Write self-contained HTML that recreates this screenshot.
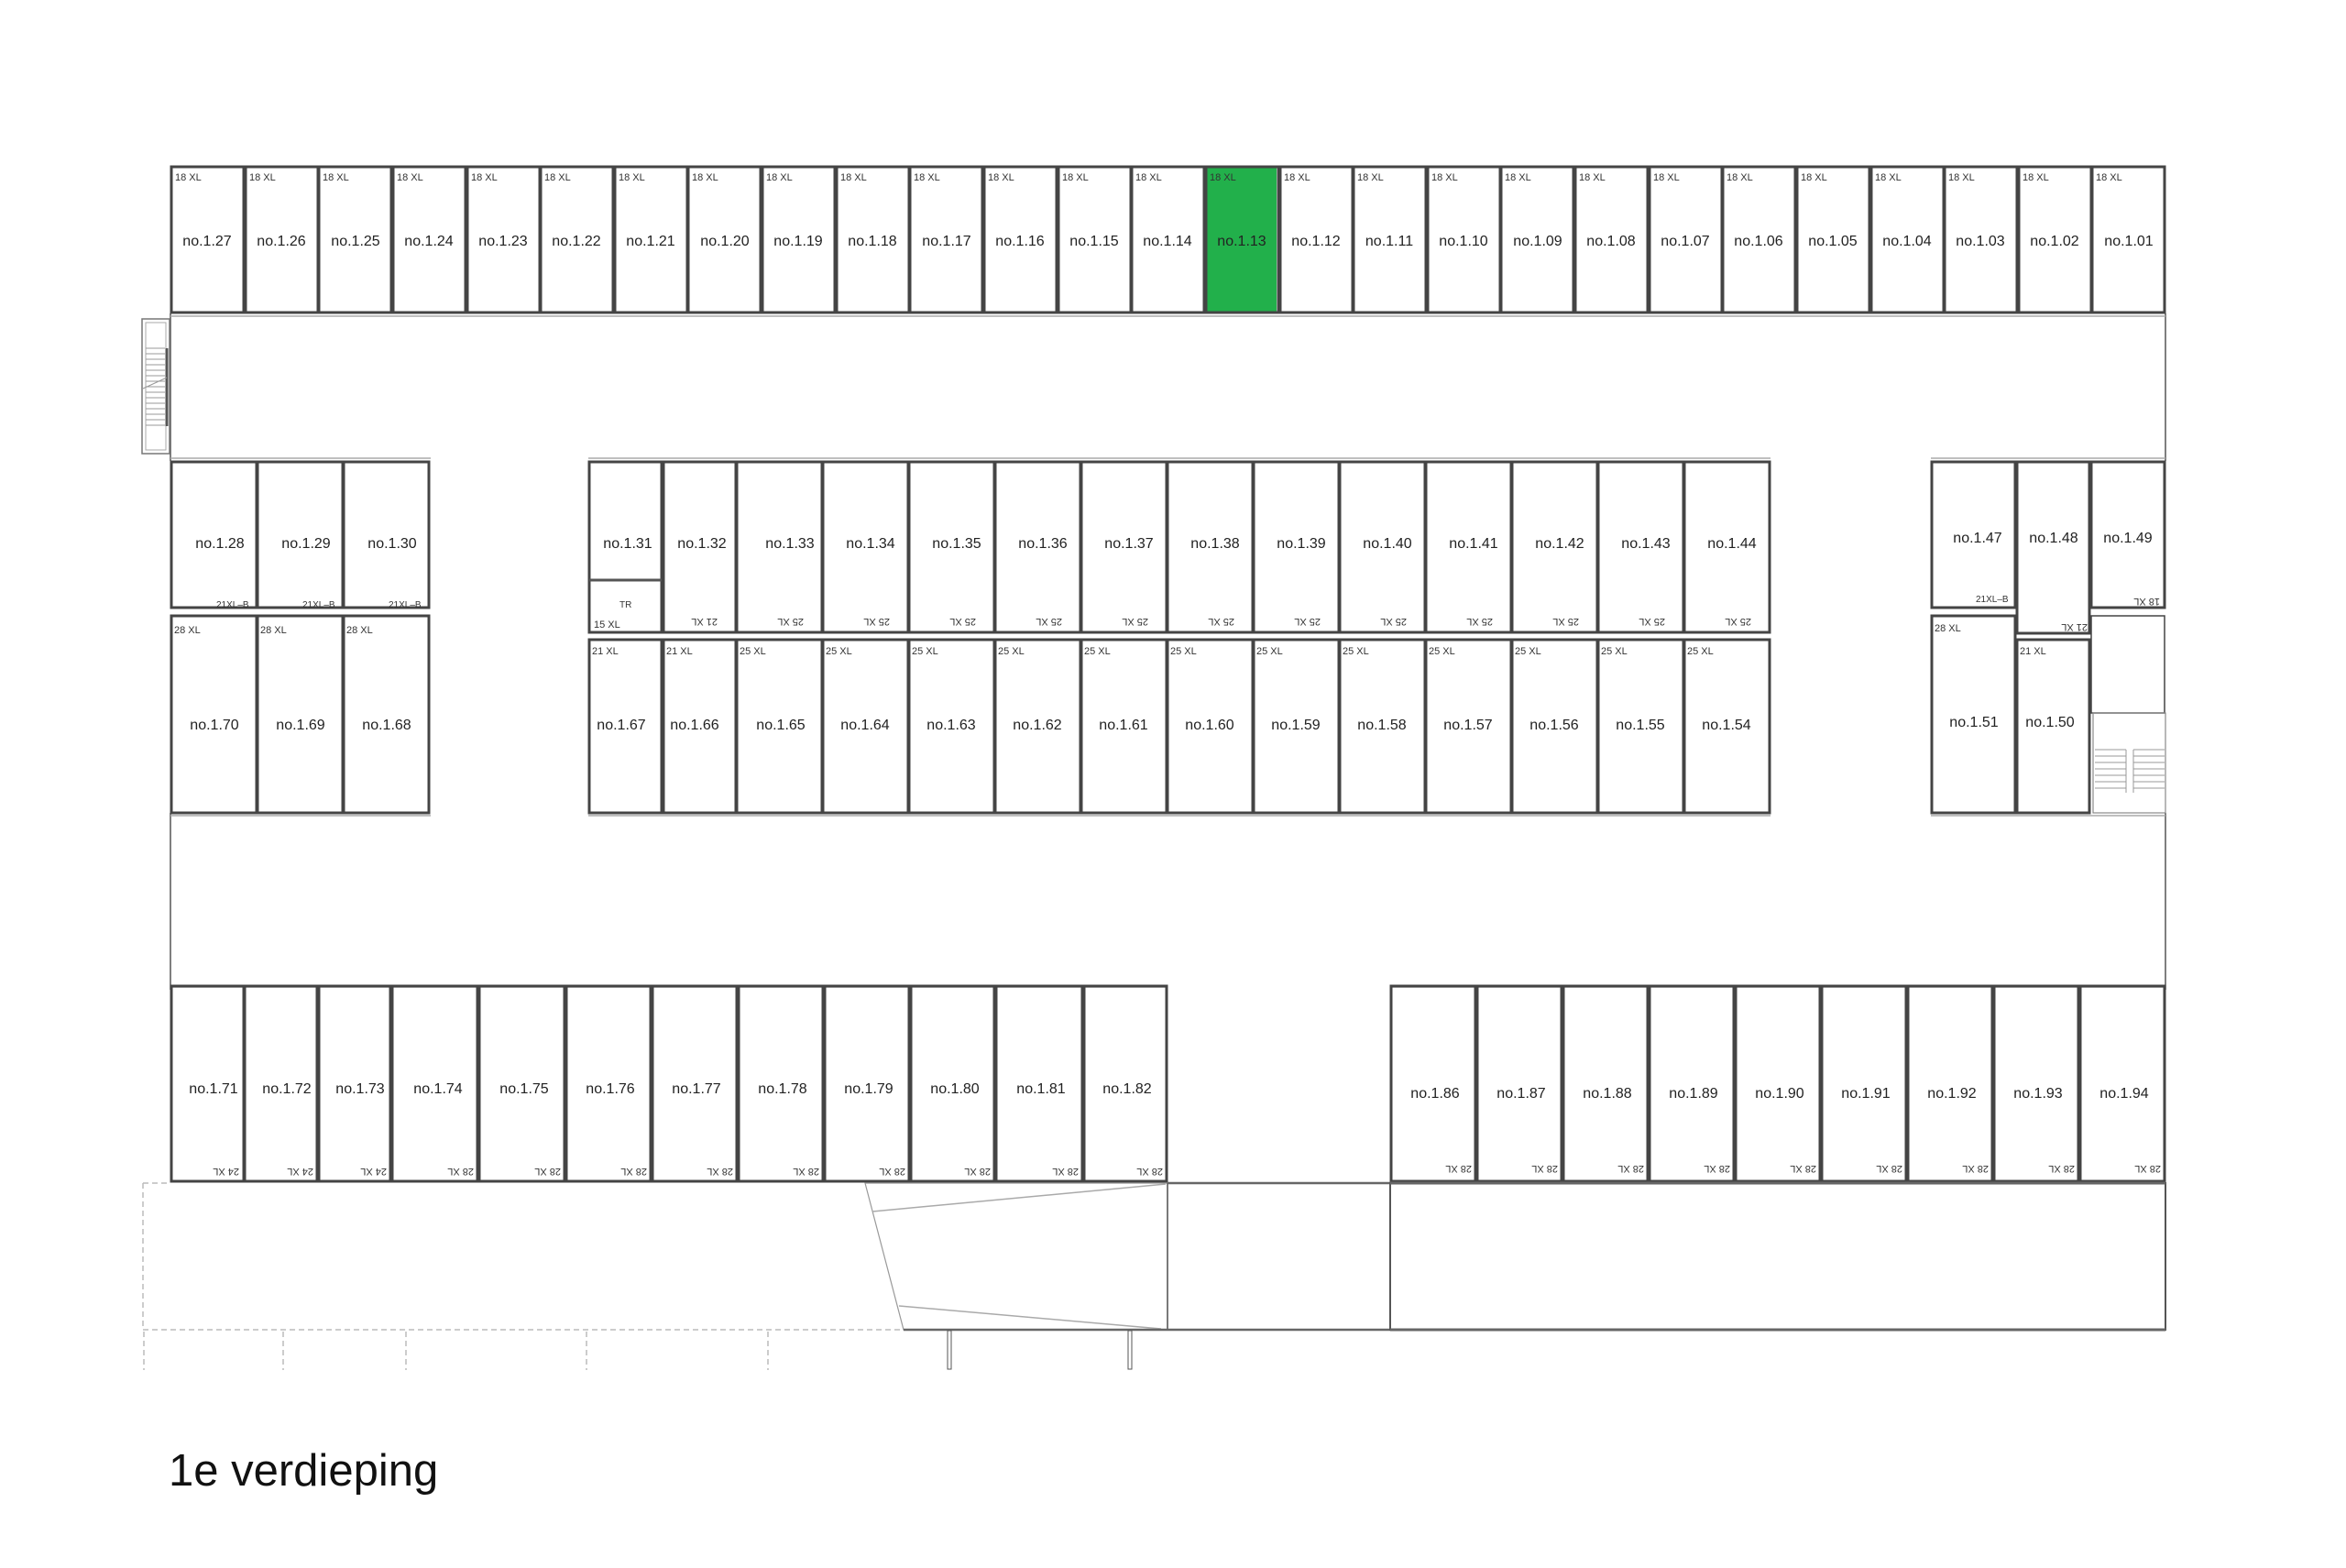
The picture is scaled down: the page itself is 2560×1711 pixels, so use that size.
<!DOCTYPE html>
<html><head><meta charset="utf-8"><style>
html,body{margin:0;padding:0;background:#fff;}
svg{display:block;}
.u{fill:none;stroke:#444;stroke-width:3;}
.ui{fill:none;stroke:#999;stroke-width:1;}
.l{font-family:"Liberation Sans",sans-serif;font-size:16px;fill:#222;text-anchor:middle;}
.s{font-family:"Liberation Sans",sans-serif;font-size:11px;fill:#333;}
.ln{stroke:#555;stroke-width:1.5;fill:none;}
.lg{stroke:#aaa;stroke-width:1.5;fill:none;}
.d{stroke:#bbb;stroke-width:1.5;fill:none;stroke-dasharray:6 4;}
</style></head><body>
<svg width="2560" height="1711" viewBox="0 0 2560 1711" xmlns="http://www.w3.org/2000/svg">
<rect width="2560" height="1711" fill="#fff"/>

<!-- corridors -->
<line class="ln" x1="186" y1="342" x2="186" y2="503"/>
<line class="ln" x1="2363" y1="342" x2="2363" y2="503"/>
<line class="ln" x1="186" y1="887" x2="186" y2="1080"/>
<line class="ln" x1="2363" y1="887" x2="2363" y2="1080"/>
<line class="lg" x1="186" y1="345" x2="2363" y2="345"/>
<line class="lg" x1="186" y1="500" x2="470" y2="500"/>
<line class="lg" x1="642" y1="500" x2="1932" y2="500"/>
<line class="lg" x1="2107" y1="500" x2="2363" y2="500"/>
<line class="lg" x1="186" y1="890" x2="470" y2="890"/>
<line class="lg" x1="642" y1="890" x2="1932" y2="890"/>
<line class="lg" x1="2107" y1="890" x2="2363" y2="890"/>
<line class="lg" x1="186" y1="1077" x2="1274" y2="1077"/>
<line class="lg" x1="1517" y1="1077" x2="2363" y2="1077"/>

<!-- left stair -->
<rect x="155" y="348" width="30" height="147" fill="none" stroke="#777" stroke-width="1.5"/>
<rect x="159" y="352" width="22" height="139" fill="none" stroke="#aaa" stroke-width="1"/>
<line x1="182" y1="380" x2="182" y2="465" stroke="#555" stroke-width="3"/>
<g stroke="#999" stroke-width="1">
<line x1="159" y1="380" x2="180" y2="380"/><line x1="159" y1="386" x2="180" y2="386"/><line x1="159" y1="392" x2="180" y2="392"/><line x1="159" y1="398" x2="180" y2="398"/><line x1="159" y1="404" x2="180" y2="404"/><line x1="159" y1="410" x2="180" y2="410"/><line x1="159" y1="416" x2="180" y2="416"/><line x1="159" y1="422" x2="180" y2="422"/><line x1="159" y1="428" x2="180" y2="428"/><line x1="159" y1="434" x2="180" y2="434"/><line x1="159" y1="440" x2="180" y2="440"/><line x1="159" y1="446" x2="180" y2="446"/><line x1="159" y1="452" x2="180" y2="452"/><line x1="159" y1="458" x2="180" y2="458"/><line x1="159" y1="464" x2="180" y2="464"/>
<line x1="156" y1="424" x2="182" y2="412"/>
</g>

<!-- TOP ROW -->
<rect x="1316" y="183" width="77" height="157" fill="#22b04b"/>
<g>
<rect class="u" x="187" y="182" width="79" height="159"/>
<rect class="u" x="268" y="182" width="79" height="159"/>
<rect class="u" x="348" y="182" width="79" height="159"/>
<rect class="u" x="429" y="182" width="79" height="159"/>
<rect class="u" x="510" y="182" width="79" height="159"/>
<rect class="u" x="590" y="182" width="79" height="159"/>
<rect class="u" x="671" y="182" width="79" height="159"/>
<rect class="u" x="751" y="182" width="79" height="159"/>
<rect class="u" x="832" y="182" width="79" height="159"/>
<rect class="u" x="913" y="182" width="79" height="159"/>
<rect class="u" x="993" y="182" width="79" height="159"/>
<rect class="u" x="1074" y="182" width="79" height="159"/>
<rect class="u" x="1155" y="182" width="79" height="159"/>
<rect class="u" x="1235" y="182" width="79" height="159"/>
<rect class="u" x="1316" y="182" width="79" height="159"/>
<rect class="u" x="1397" y="182" width="79" height="159"/>
<rect class="u" x="1477" y="182" width="79" height="159"/>
<rect class="u" x="1558" y="182" width="79" height="159"/>
<rect class="u" x="1638" y="182" width="79" height="159"/>
<rect class="u" x="1719" y="182" width="79" height="159"/>
<rect class="u" x="1800" y="182" width="79" height="159"/>
<rect class="u" x="1880" y="182" width="79" height="159"/>
<rect class="u" x="1961" y="182" width="79" height="159"/>
<rect class="u" x="2042" y="182" width="79" height="159"/>
<rect class="u" x="2122" y="182" width="79" height="159"/>
<rect class="u" x="2203" y="182" width="79" height="159"/>
<rect class="u" x="2283" y="182" width="79" height="159"/>
</g>
<g class="l">
<text x="226" y="268">no.1.27</text><text x="307" y="268">no.1.26</text><text x="388" y="268">no.1.25</text><text x="468" y="268">no.1.24</text><text x="549" y="268">no.1.23</text><text x="629" y="268">no.1.22</text><text x="710" y="268">no.1.21</text><text x="791" y="268">no.1.20</text><text x="871" y="268">no.1.19</text><text x="952" y="268">no.1.18</text><text x="1033" y="268">no.1.17</text><text x="1113" y="268">no.1.16</text><text x="1194" y="268">no.1.15</text><text x="1274" y="268">no.1.14</text><text x="1355" y="268">no.1.13</text><text x="1436" y="268">no.1.12</text><text x="1516" y="268">no.1.11</text><text x="1597" y="268">no.1.10</text><text x="1678" y="268">no.1.09</text><text x="1758" y="268">no.1.08</text><text x="1839" y="268">no.1.07</text><text x="1919" y="268">no.1.06</text><text x="2000" y="268">no.1.05</text><text x="2081" y="268">no.1.04</text><text x="2161" y="268">no.1.03</text><text x="2242" y="268">no.1.02</text><text x="2323" y="268">no.1.01</text>
</g>
<g class="s">
<text x="191" y="197">18 XL</text><text x="272" y="197">18 XL</text><text x="352" y="197">18 XL</text><text x="433" y="197">18 XL</text><text x="514" y="197">18 XL</text><text x="594" y="197">18 XL</text><text x="675" y="197">18 XL</text><text x="755" y="197">18 XL</text><text x="836" y="197">18 XL</text><text x="917" y="197">18 XL</text><text x="997" y="197">18 XL</text><text x="1078" y="197">18 XL</text><text x="1159" y="197">18 XL</text><text x="1239" y="197">18 XL</text><text x="1320" y="197">18 XL</text><text x="1401" y="197">18 XL</text><text x="1481" y="197">18 XL</text><text x="1562" y="197">18 XL</text><text x="1642" y="197">18 XL</text><text x="1723" y="197">18 XL</text><text x="1804" y="197">18 XL</text><text x="1884" y="197">18 XL</text><text x="1965" y="197">18 XL</text><text x="2046" y="197">18 XL</text><text x="2126" y="197">18 XL</text><text x="2207" y="197">18 XL</text><text x="2287" y="197">18 XL</text>
</g>

<!-- LEFT BLOCK -->
<rect class="u" x="187" y="504" width="93" height="159"/>
<rect class="u" x="281" y="504" width="93" height="159"/>
<rect class="u" x="375" y="504" width="93" height="159"/>
<rect class="u" x="187" y="672" width="93" height="215"/>
<rect class="u" x="281" y="672" width="93" height="215"/>
<rect class="u" x="375" y="672" width="93" height="215"/>
<g class="l">
<text x="240" y="598">no.1.28</text><text x="334" y="598">no.1.29</text><text x="428" y="598">no.1.30</text>
<text x="234" y="796">no.1.70</text><text x="328" y="796">no.1.69</text><text x="422" y="796">no.1.68</text>
</g>
<g class="s">
<text x="236" y="663" font-size="10">21XL–B</text><text x="330" y="663" font-size="10">21XL–B</text><text x="424" y="663" font-size="10">21XL–B</text>
<text x="190" y="691">28 XL</text><text x="284" y="691">28 XL</text><text x="378" y="691">28 XL</text>
</g>

<!-- MIDDLE BLOCK upper -->
<rect class="u" x="643" y="504" width="79" height="186"/>
<line x1="643" y1="633" x2="722" y2="633" stroke="#555" stroke-width="3"/>
<rect class="u" x="724" y="504" width="79" height="186"/>
<rect class="u" x="804" y="504" width="93" height="186"/>
<rect class="u" x="898" y="504" width="93" height="186"/>
<rect class="u" x="992" y="504" width="93" height="186"/>
<rect class="u" x="1086" y="504" width="93" height="186"/>
<rect class="u" x="1180" y="504" width="93" height="186"/>
<rect class="u" x="1274" y="504" width="93" height="186"/>
<rect class="u" x="1368" y="504" width="93" height="186"/>
<rect class="u" x="1462" y="504" width="93" height="186"/>
<rect class="u" x="1556" y="504" width="93" height="186"/>
<rect class="u" x="1650" y="504" width="93" height="186"/>
<rect class="u" x="1744" y="504" width="93" height="186"/>
<rect class="u" x="1838" y="504" width="93" height="186"/>
<g class="l">
<text x="685" y="598">no.1.31</text><text x="766" y="598">no.1.32</text><text x="862" y="598">no.1.33</text><text x="950" y="598">no.1.34</text><text x="1044" y="598">no.1.35</text><text x="1138" y="598">no.1.36</text><text x="1232" y="598">no.1.37</text><text x="1326" y="598">no.1.38</text><text x="1420" y="598">no.1.39</text><text x="1514" y="598">no.1.40</text><text x="1608" y="598">no.1.41</text><text x="1702" y="598">no.1.42</text><text x="1796" y="598">no.1.43</text><text x="1890" y="598">no.1.44</text>
</g>
<g class="s">
<text x="676" y="663" font-size="10">TR</text>
<text x="648" y="685">15 XL</text>
<text transform="rotate(180 783 675)" x="783" y="675">21 XL</text>
<text transform="rotate(180 877 675)" x="877" y="675">25 XL</text>
<text transform="rotate(180 971 675)" x="971" y="675">25 XL</text>
<text transform="rotate(180 1065 675)" x="1065" y="675">25 XL</text>
<text transform="rotate(180 1159 675)" x="1159" y="675">25 XL</text>
<text transform="rotate(180 1253 675)" x="1253" y="675">25 XL</text>
<text transform="rotate(180 1347 675)" x="1347" y="675">25 XL</text>
<text transform="rotate(180 1441 675)" x="1441" y="675">25 XL</text>
<text transform="rotate(180 1535 675)" x="1535" y="675">25 XL</text>
<text transform="rotate(180 1629 675)" x="1629" y="675">25 XL</text>
<text transform="rotate(180 1723 675)" x="1723" y="675">25 XL</text>
<text transform="rotate(180 1817 675)" x="1817" y="675">25 XL</text>
<text transform="rotate(180 1911 675)" x="1911" y="675">25 XL</text>
</g>
<!-- MIDDLE BLOCK lower -->
<rect class="u" x="643" y="698" width="79" height="189"/>
<rect class="u" x="724" y="698" width="79" height="189"/>
<rect class="u" x="804" y="698" width="93" height="189"/>
<rect class="u" x="898" y="698" width="93" height="189"/>
<rect class="u" x="992" y="698" width="93" height="189"/>
<rect class="u" x="1086" y="698" width="93" height="189"/>
<rect class="u" x="1180" y="698" width="93" height="189"/>
<rect class="u" x="1274" y="698" width="93" height="189"/>
<rect class="u" x="1368" y="698" width="93" height="189"/>
<rect class="u" x="1462" y="698" width="93" height="189"/>
<rect class="u" x="1556" y="698" width="93" height="189"/>
<rect class="u" x="1650" y="698" width="93" height="189"/>
<rect class="u" x="1744" y="698" width="93" height="189"/>
<rect class="u" x="1838" y="698" width="93" height="189"/>
<g class="l">
<text x="678" y="796">no.1.67</text><text x="758" y="796">no.1.66</text><text x="852" y="796">no.1.65</text><text x="944" y="796">no.1.64</text><text x="1038" y="796">no.1.63</text><text x="1132" y="796">no.1.62</text><text x="1226" y="796">no.1.61</text><text x="1320" y="796">no.1.60</text><text x="1414" y="796">no.1.59</text><text x="1508" y="796">no.1.58</text><text x="1602" y="796">no.1.57</text><text x="1696" y="796">no.1.56</text><text x="1790" y="796">no.1.55</text><text x="1884" y="796">no.1.54</text>
</g>
<g class="s">
<text x="646" y="714">21 XL</text><text x="727" y="714">21 XL</text><text x="807" y="714">25 XL</text><text x="901" y="714">25 XL</text><text x="995" y="714">25 XL</text><text x="1089" y="714">25 XL</text><text x="1183" y="714">25 XL</text><text x="1277" y="714">25 XL</text><text x="1371" y="714">25 XL</text><text x="1465" y="714">25 XL</text><text x="1559" y="714">25 XL</text><text x="1653" y="714">25 XL</text><text x="1747" y="714">25 XL</text><text x="1841" y="714">25 XL</text>
</g>

<!-- RIGHT BLOCK -->
<rect class="u" x="2108" y="504" width="91" height="159"/>
<rect class="u" x="2201" y="504" width="79" height="187"/>
<rect class="u" x="2282" y="504" width="80" height="159"/>
<rect class="u" x="2108" y="672" width="91" height="215"/>
<rect class="u" x="2201" y="698" width="79" height="189"/>
<rect x="2282" y="672" width="80" height="106" fill="none" stroke="#444" stroke-width="1.5"/>
<rect x="2284" y="778" width="79" height="109" fill="none" stroke="#888" stroke-width="1.2"/>
<g stroke="#999" stroke-width="1">
<line x1="2286" y1="818" x2="2320" y2="818"/><line x1="2286" y1="825" x2="2320" y2="825"/><line x1="2286" y1="832" x2="2320" y2="832"/><line x1="2286" y1="839" x2="2320" y2="839"/><line x1="2286" y1="846" x2="2320" y2="846"/><line x1="2286" y1="853" x2="2320" y2="853"/><line x1="2286" y1="860" x2="2320" y2="860"/>
<line x1="2328" y1="818" x2="2362" y2="818"/><line x1="2328" y1="825" x2="2362" y2="825"/><line x1="2328" y1="832" x2="2362" y2="832"/><line x1="2328" y1="839" x2="2362" y2="839"/><line x1="2328" y1="846" x2="2362" y2="846"/><line x1="2328" y1="853" x2="2362" y2="853"/><line x1="2328" y1="860" x2="2362" y2="860"/>
<line x1="2320" y1="818" x2="2320" y2="865"/><line x1="2328" y1="818" x2="2328" y2="865"/>
</g>
<g class="l">
<text x="2158" y="592">no.1.47</text><text x="2241" y="592">no.1.48</text><text x="2322" y="592">no.1.49</text>
<text x="2154" y="793">no.1.51</text><text x="2237" y="793">no.1.50</text>
</g>
<g class="s">
<text x="2156" y="657" font-size="10">21XL–B</text>
<text transform="rotate(180 2278 681)" x="2278" y="681">21 XL</text>
<text transform="rotate(180 2357 653)" x="2357" y="653">18 XL</text>
<text x="2111" y="689">28 XL</text>
<text x="2204" y="714">21 XL</text>
</g>

<!-- BOTTOM LEFT ROW -->
<rect class="u" x="187" y="1076" width="79" height="213"/>
<rect class="u" x="267" y="1076" width="79" height="213"/>
<rect class="u" x="348" y="1076" width="78" height="213"/>
<rect class="u" x="428" y="1076" width="93" height="213"/>
<rect class="u" x="523" y="1076" width="93" height="213"/>
<rect class="u" x="618" y="1076" width="92" height="213"/>
<rect class="u" x="712" y="1076" width="92" height="213"/>
<rect class="u" x="806" y="1076" width="92" height="213"/>
<rect class="u" x="900" y="1076" width="92" height="213"/>
<rect class="u" x="994" y="1076" width="91" height="213"/>
<rect class="u" x="1087" y="1076" width="94" height="213"/>
<rect class="u" x="1183" y="1076" width="90" height="213"/>
<g class="l">
<text x="233" y="1193">no.1.71</text><text x="313" y="1193">no.1.72</text><text x="393" y="1193">no.1.73</text><text x="478" y="1193">no.1.74</text><text x="572" y="1193">no.1.75</text><text x="666" y="1193">no.1.76</text><text x="760" y="1193">no.1.77</text><text x="854" y="1193">no.1.78</text><text x="948" y="1193">no.1.79</text><text x="1042" y="1193">no.1.80</text><text x="1136" y="1193">no.1.81</text><text x="1230" y="1193">no.1.82</text>
</g>
<g class="s">
<text transform="rotate(180 261 1275)" x="261" y="1275">24 XL</text>
<text transform="rotate(180 342 1275)" x="342" y="1275">24 XL</text>
<text transform="rotate(180 422 1275)" x="422" y="1275">24 XL</text>
<text transform="rotate(180 517 1275)" x="517" y="1275">28 XL</text>
<text transform="rotate(180 612 1275)" x="612" y="1275">28 XL</text>
<text transform="rotate(180 706 1275)" x="706" y="1275">28 XL</text>
<text transform="rotate(180 800 1275)" x="800" y="1275">28 XL</text>
<text transform="rotate(180 894 1275)" x="894" y="1275">28 XL</text>
<text transform="rotate(180 988 1275)" x="988" y="1275">28 XL</text>
<text transform="rotate(180 1081 1275)" x="1081" y="1275">28 XL</text>
<text transform="rotate(180 1177 1275)" x="1177" y="1275">28 XL</text>
<text transform="rotate(180 1269 1275)" x="1269" y="1275">28 XL</text>
</g>

<!-- BOTTOM RIGHT ROW -->
<rect class="u" x="1518" y="1076" width="92" height="213"/>
<rect class="u" x="1612" y="1076" width="92" height="213"/>
<rect class="u" x="1706" y="1076" width="92" height="213"/>
<rect class="u" x="1800" y="1076" width="92" height="213"/>
<rect class="u" x="1894" y="1076" width="92" height="213"/>
<rect class="u" x="1988" y="1076" width="92" height="213"/>
<rect class="u" x="2082" y="1076" width="92" height="213"/>
<rect class="u" x="2176" y="1076" width="92" height="213"/>
<rect class="u" x="2270" y="1076" width="92" height="213"/>
<g class="l">
<text x="1566" y="1198">no.1.86</text><text x="1660" y="1198">no.1.87</text><text x="1754" y="1198">no.1.88</text><text x="1848" y="1198">no.1.89</text><text x="1942" y="1198">no.1.90</text><text x="2036" y="1198">no.1.91</text><text x="2130" y="1198">no.1.92</text><text x="2224" y="1198">no.1.93</text><text x="2318" y="1198">no.1.94</text>
</g>
<g class="s">
<text transform="rotate(180 1606 1272)" x="1606" y="1272">28 XL</text>
<text transform="rotate(180 1700 1272)" x="1700" y="1272">28 XL</text>
<text transform="rotate(180 1794 1272)" x="1794" y="1272">28 XL</text>
<text transform="rotate(180 1888 1272)" x="1888" y="1272">28 XL</text>
<text transform="rotate(180 1982 1272)" x="1982" y="1272">28 XL</text>
<text transform="rotate(180 2076 1272)" x="2076" y="1272">28 XL</text>
<text transform="rotate(180 2170 1272)" x="2170" y="1272">28 XL</text>
<text transform="rotate(180 2264 1272)" x="2264" y="1272">28 XL</text>
<text transform="rotate(180 2358 1272)" x="2358" y="1272">28 XL</text>
</g>

<!-- BOTTOM STRUCTURE -->
<line class="d" x1="156" y1="1291" x2="186" y2="1291"/>
<line class="d" x1="156" y1="1291" x2="156" y2="1451"/>
<line class="d" x1="156" y1="1451" x2="986" y2="1451"/>
<polygon points="944,1291 1274,1291 1274,1451 986,1451" fill="none" stroke="#999" stroke-width="1.2"/>
<line x1="1274" y1="1291" x2="1274" y2="1451" stroke="#555" stroke-width="1.5"/>
<line class="lg" x1="952" y1="1322" x2="1272" y2="1292"/>
<line class="lg" x1="981" y1="1425" x2="1267" y2="1450"/>
<line x1="986" y1="1451" x2="1517" y2="1451" stroke="#666" stroke-width="2.5"/>
<line x1="1274" y1="1291" x2="1517" y2="1291" stroke="#666" stroke-width="2.5"/>
<rect x="1517" y="1291" width="846" height="160" fill="none" stroke="#555" stroke-width="2"/>
<line x1="1517" y1="1291" x2="2363" y2="1291" stroke="#666" stroke-width="3"/>
<line x1="1517" y1="1451" x2="2363" y2="1451" stroke="#666" stroke-width="3"/>
<g class="d">
<line x1="157" y1="1453" x2="157" y2="1495"/><line x1="309" y1="1453" x2="309" y2="1495"/><line x1="443" y1="1453" x2="443" y2="1495"/><line x1="640" y1="1453" x2="640" y2="1495"/><line x1="838" y1="1453" x2="838" y2="1495"/>
</g>
<rect x="1034" y="1452" width="4" height="42" fill="none" stroke="#555" stroke-width="1"/>
<rect x="1231" y="1452" width="4" height="42" fill="none" stroke="#555" stroke-width="1"/>

<!-- TITLE -->
<text x="184" y="1621" font-family="'Liberation Sans',sans-serif" font-size="49" fill="#111">1e verdieping</text>
</svg>
</body></html>
